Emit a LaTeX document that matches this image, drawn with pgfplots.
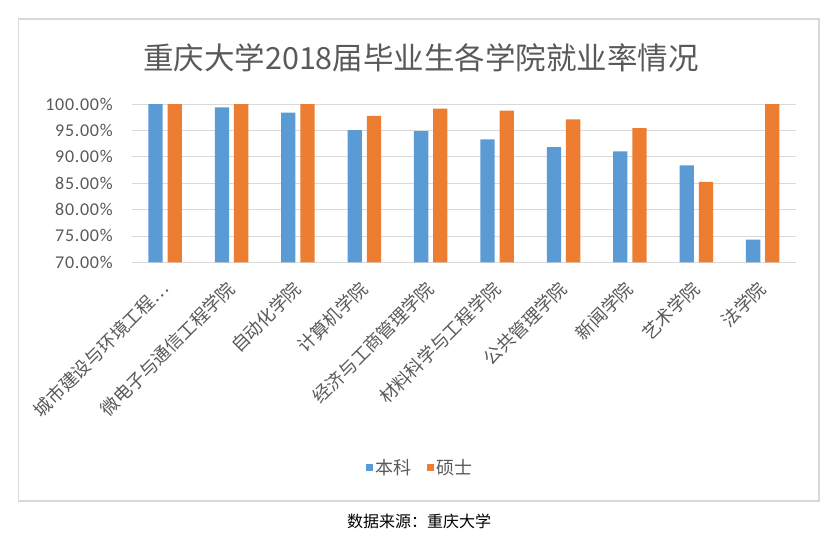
\documentclass[border=0pt]{standalone}
\usepackage{pgfplots}
\pgfplotsset{compat=1.18}
\usepackage{fontspec}
\setmainfont{Carlito}
\newfontfamily\cjk{Noto Sans CJK SC}
\newfontfamily\tickfont{Carlito}[LetterSpace=4]

\definecolor{txtgray}{HTML}{595959}
\definecolor{gridgray}{HTML}{D9D9D9}
\definecolor{benke}{HTML}{5B9BD5}
\definecolor{shuoshi}{HTML}{ED7D31}

\begin{document}
\begin{tikzpicture}
\path[use as bounding box] (0pt,0pt) rectangle (839pt,-543pt);
\draw[gridgray, line width=1.3pt] (18.5pt,-19pt) rectangle (819pt,-501pt);

\node[text=txtgray, font=\cjk\fontsize{30.5}{31}\selectfont] at (421pt,-58pt)
  {重庆大学2018届毕业生各学院就业率情况};
\node[text=black, font=\cjk\fontsize{16}{16}\selectfont] at (419pt,-521pt)
  {数据来源：重庆大学};

\begin{axis}[
    at={(131.9pt,-262.3pt)}, anchor=south west,
    scale only axis, width=664pt, height=158.3pt,
    xmin=-0.5, xmax=9.5, ymin=70, ymax=100,
    axis line style={draw=none},
    major tick length=0pt,
    ymajorgrids, major grid style={gridgray, line width=0.8pt},
    ytick={70,75,...,100},
    /pgf/number format/assume math mode=true,
    yticklabel={\pgfmathprintnumber[fixed,fixed zerofill,precision=2]{\tick}\%},
    yticklabel style={font=\tickfont\fontsize{18}{18}\selectfont, text=txtgray,
        inner sep=0pt, anchor=east, xshift=-19pt},
    xtick={0,...,9},
    xticklabels={城市建设与环境工程…,微电子与通信工程学院,自动化学院,计算机学院,
        经济与工商管理学院,材料科学与工程学院,公共管理学院,新闻学院,艺术学院,法学院},
    xticklabel style={font=\cjk\fontsize{18}{18}\selectfont, text=txtgray,
        inner sep=0pt, rotate=45, anchor=east},
    xticklabel shift=23pt,
    legend columns=2,
    legend style={at={(0.4346,-1.2975)}, anchor=center, draw=none, fill=none,
        font=\cjk\fontsize{18}{18}\selectfont, text=txtgray,
        /tikz/every even column/.append style={column sep=14pt}},
    legend image code/.code={\fill[#1] (0pt,-3.5pt) rectangle (7pt,3.5pt);},
]
\addplot[ybar, bar width=14.3pt, bar shift=-9.6pt, fill=benke, draw=none]
  coordinates {(0,100) (1,99.37) (2,98.36) (3,95.07) (4,94.88)
               (5,93.30) (6,91.85) (7,91.03) (8,88.38) (9,74.30)};
\addlegendentry{本科}
\addplot[ybar, bar width=14.3pt, bar shift=9.6pt, fill=shuoshi, draw=none]
  coordinates {(0,100) (1,100) (2,100) (3,97.73) (4,99.12)
               (5,98.74) (6,97.09) (7,95.45) (8,85.22) (9,100)};
\addlegendentry{硕士}
\end{axis}
\end{tikzpicture}
\end{document}
